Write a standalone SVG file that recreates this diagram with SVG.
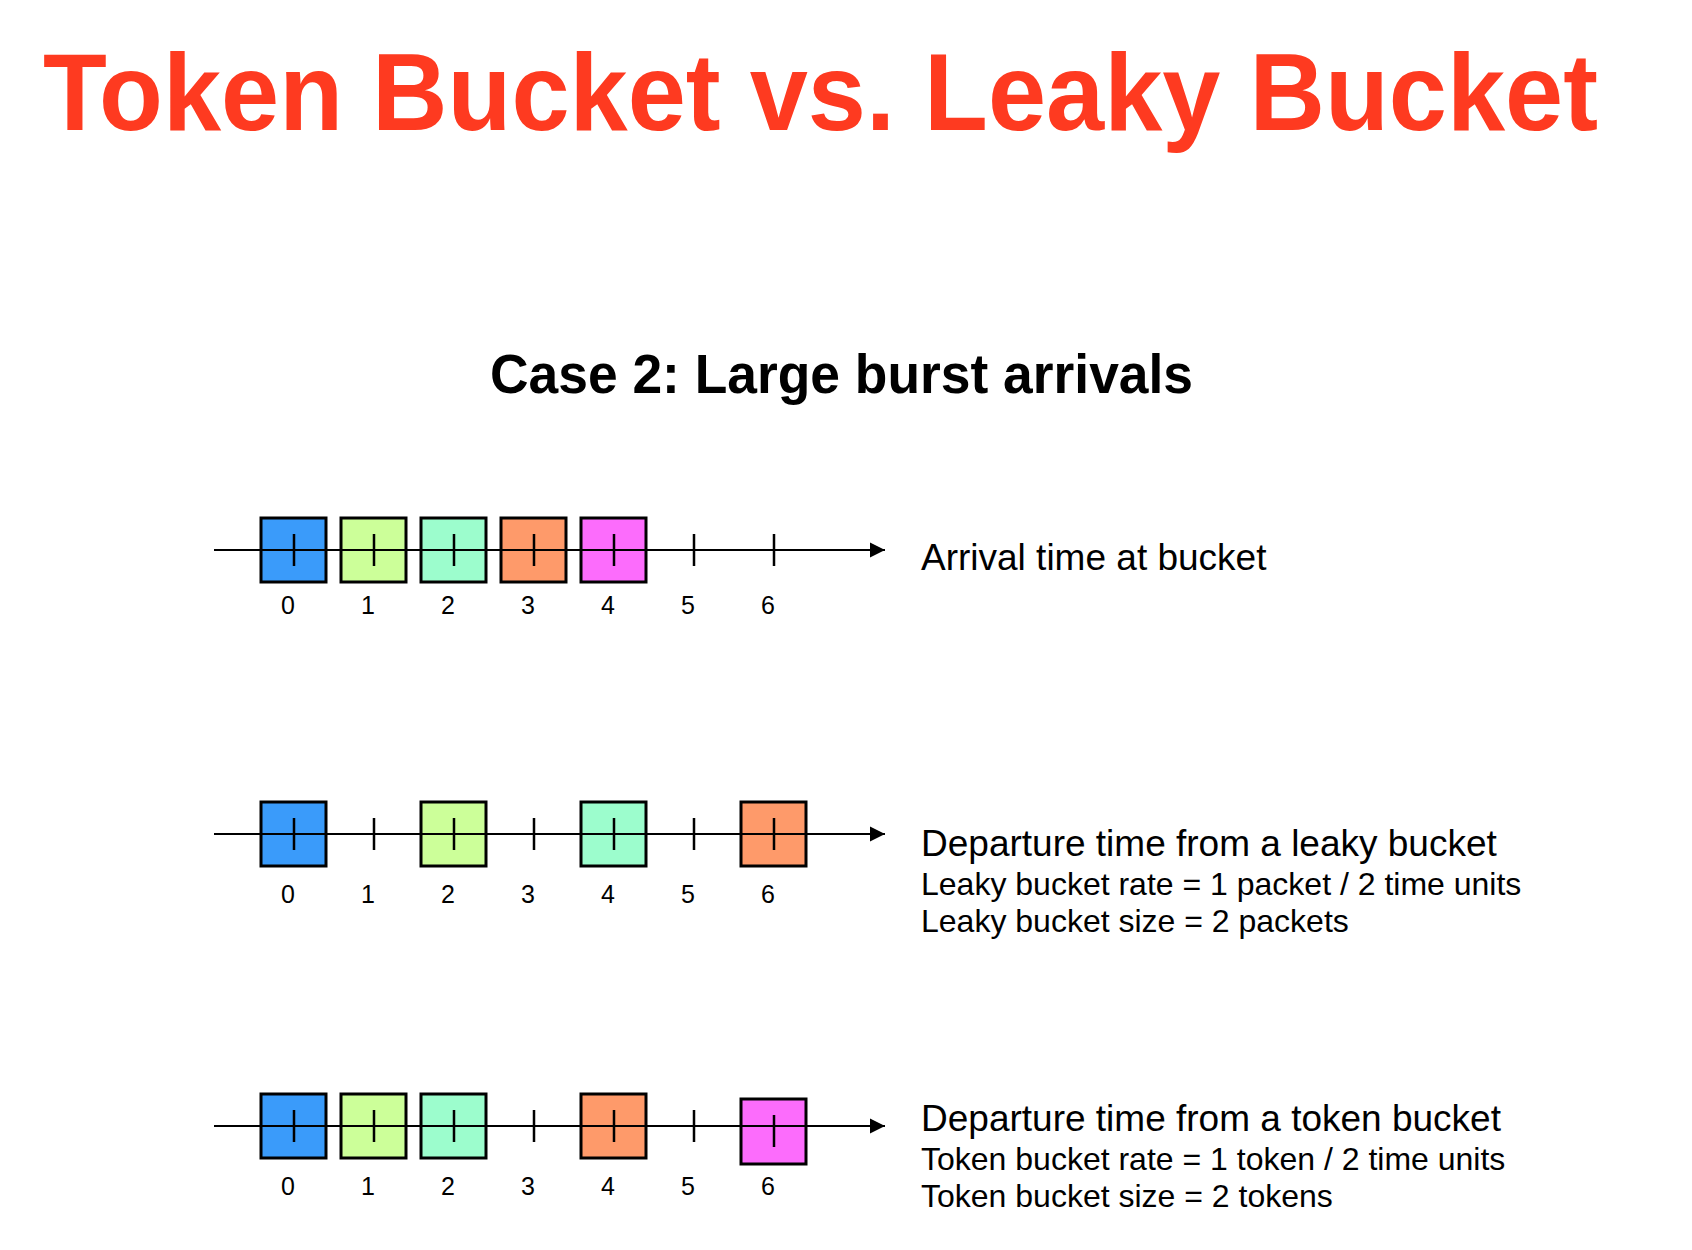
<svg xmlns="http://www.w3.org/2000/svg" width="1692" height="1250" viewBox="0 0 1692 1250">
<defs>
<style>
.title{font-family:"Liberation Sans",Arial,sans-serif;font-weight:bold;fill:#FE3A20}
.sub{font-family:"Liberation Sans",Arial,sans-serif;font-weight:bold;fill:#000}
.lbl{font-family:"Liberation Sans",Arial,sans-serif;fill:#000}
.num{font-family:"Liberation Sans",Arial,sans-serif;font-size:25px;fill:#000;text-anchor:middle}
.axis{stroke:#000;stroke-width:2;fill:none}
.tick{stroke:#000;stroke-width:2.5}
.box{stroke:#000;stroke-width:3}
.blue{fill:#3A9BFA}.lime{fill:#CCFF99}.mint{fill:#9CFDCD}.orange{fill:#FE9A6A}.magenta{fill:#FC6CFC}
</style>
<marker id="arr" markerWidth="16" markerHeight="16" viewBox="0 0 16 16" refX="15" refY="8" orient="auto" markerUnits="userSpaceOnUse">
<path d="M0,0.5 L15,8 L0,15.5 Z" fill="#000"/>
</marker>
</defs>
<rect width="1692" height="1250" fill="#fff"/>
<text class="title" x="43" y="130" font-size="110" textLength="1555" lengthAdjust="spacingAndGlyphs">Token Bucket vs. Leaky Bucket</text>
<text class="sub" x="490" y="393" font-size="56" textLength="703" lengthAdjust="spacingAndGlyphs">Case 2: Large burst arrivals</text>

<g id="row1">
<rect class="box blue" x="261" y="518" width="65" height="64"/>
<rect class="box lime" x="341" y="518" width="65" height="64"/>
<rect class="box mint" x="421" y="518" width="65" height="64"/>
<rect class="box orange" x="501" y="518" width="65" height="64"/>
<rect class="box magenta" x="581" y="518" width="65" height="64"/>
<text class="lbl" x="921" y="570" font-size="37">Arrival time at bucket</text>
</g>
<g id="row2">
<rect class="box blue" x="261" y="802" width="65" height="64"/>
<rect class="box lime" x="421" y="802" width="65" height="64"/>
<rect class="box mint" x="581" y="802" width="65" height="64"/>
<rect class="box orange" x="741" y="802" width="65" height="64"/>
<text class="lbl" x="921" y="856" font-size="37">Departure time from a leaky bucket</text>
<text class="lbl" x="921" y="895" font-size="32">Leaky bucket rate = 1 packet / 2 time units</text>
<text class="lbl" x="921" y="932" font-size="32">Leaky bucket size = 2 packets</text>
</g>
<g id="row3">
<rect class="box blue" x="261" y="1094" width="65" height="64"/>
<rect class="box lime" x="341" y="1094" width="65" height="64"/>
<rect class="box mint" x="421" y="1094" width="65" height="64"/>
<rect class="box orange" x="581" y="1094" width="65" height="64"/>
<rect class="box magenta" x="741" y="1099" width="65" height="65"/>
<text class="lbl" x="921" y="1131" font-size="37">Departure time from a token bucket</text>
<text class="lbl" x="921" y="1170" font-size="32">Token bucket rate = 1 token / 2 time units</text>
<text class="lbl" x="921" y="1207" font-size="32">Token bucket size = 2 tokens</text>
</g>

<g id="connectors">
<line class="axis" x1="214" y1="550" x2="885" y2="550" marker-end="url(#arr)"/>
<line class="axis" x1="214" y1="834" x2="885" y2="834" marker-end="url(#arr)"/>
<line class="axis" x1="214" y1="1126" x2="885" y2="1126" marker-end="url(#arr)"/>
<path class="tick" d="M294,534V566M374,534V566M454,534V566M534,534V566M614,534V566M694,534V566M774,534V566"/>
<path class="tick" d="M294,818V850M374,818V850M454,818V850M534,818V850M614,818V850M694,818V850M774,818V850"/>
<path class="tick" d="M294,1110V1142M374,1110V1142M454,1110V1142M534,1110V1142M614,1110V1142M694,1110V1142M774,1115V1147"/>
</g>

<g id="labels">
<text class="num" x="288" y="614">0</text><text class="num" x="368" y="614">1</text><text class="num" x="448" y="614">2</text><text class="num" x="528" y="614">3</text><text class="num" x="608" y="614">4</text><text class="num" x="688" y="614">5</text><text class="num" x="768" y="614">6</text>
<text class="num" x="288" y="903">0</text><text class="num" x="368" y="903">1</text><text class="num" x="448" y="903">2</text><text class="num" x="528" y="903">3</text><text class="num" x="608" y="903">4</text><text class="num" x="688" y="903">5</text><text class="num" x="768" y="903">6</text>
<text class="num" x="288" y="1195">0</text><text class="num" x="368" y="1195">1</text><text class="num" x="448" y="1195">2</text><text class="num" x="528" y="1195">3</text><text class="num" x="608" y="1195">4</text><text class="num" x="688" y="1195">5</text><text class="num" x="768" y="1195">6</text>
</g>
</svg>
